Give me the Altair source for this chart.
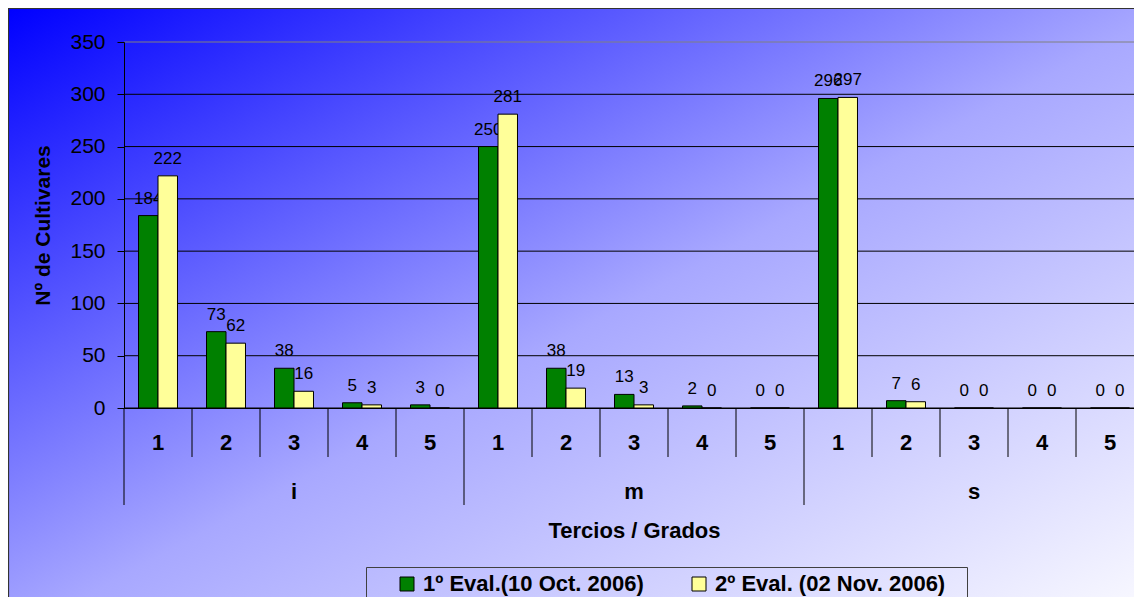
import altair as alt
import pandas as pd

tercios = ["i", "m", "s"]
grados = ["1", "2", "3", "4", "5"]
series = ["1º Eval.(10 Oct. 2006)", "2º Eval. (02 Nov. 2006)"]
eval1 = [184, 73, 38, 5, 3, 250, 38, 13, 2, 0, 296, 7, 0, 0, 0]
eval2 = [222, 62, 16, 3, 0, 281, 19, 3, 0, 0, 297, 6, 0, 0, 0]
y_ticks = [0, 50, 100, 150, 200, 250, 300, 350]
colors = ["#008000", "#FFFF99"]

cats = [f"{t}-{g}" for t in tercios for g in grados]
rows = []
for k, c in enumerate(cats):
    t, g = c.split("-")
    rows.append({"cat": c, "tercio": t, "grado": g, "serie": series[0], "v": eval1[k]})
    rows.append({"cat": c, "tercio": t, "grado": g, "serie": series[1], "v": eval2[k]})
df = pd.DataFrame(rows)
cat_df = pd.DataFrame({
    "cat": cats,
    "tercio": [c.split("-")[0] for c in cats],
    "grado": [c.split("-")[1] for c in cats],
})
grid_df = pd.DataFrame({"v": y_ticks})

W, H = 1020, 366
FONT = "Liberation Sans"

xscale = alt.Scale(domain=cats, paddingInner=0, paddingOuter=0)
yscale = alt.Scale(domain=[0, 350], nice=False)
xoff_scale = alt.Scale(domain=series, paddingInner=0, paddingOuter=0.744)

xaxis = alt.Axis(labels=False, ticks=False, domain=True, domainColor="black", domainWidth=1,
                 zindex=1, titleFont=FONT, titleFontSize=22, titleFontWeight="bold",
                 titleColor="black", titleY=122, titleBaseline="middle")
yaxis = alt.Axis(values=y_ticks, grid=False, domainColor="black", tickColor="black", tickSize=7,
                 labelFont=FONT, labelFontSize=21, labelColor="black", labelPadding=12,
                 title="Nº de Cultivares", titleFont=FONT, titleFontSize=21, titleFontWeight="bold",
                 titleColor="black", titleX=-81, titleY=H / 2, titleAngle=270,
                 titleBaseline="middle", titleAlign="center", zindex=1)


def X(**kw):
    return alt.X("cat:N", scale=xscale, title="Tercios / Grados", axis=xaxis, **kw)


def Y():
    return alt.Y("v:Q", scale=yscale, axis=yaxis)


grad = alt.LinearGradient(
    gradient="linear",
    stops=[alt.GradientStop(color="#0000FF", offset=0),
           alt.GradientStop(color="#A8A8FF", offset=0.5),
           alt.GradientStop(color="#FFFFFF", offset=1)],
    x1=0, y1=0, x2=1, y2=1)

bg = alt.Chart(alt.Data(values=[{}])).mark_rect(fill=grad, stroke="#333333", strokeWidth=1.2).encode(
    x=alt.value(-115.5), x2=alt.value(W + 30), y=alt.value(-33.5), y2=alt.value(H + 230))

grid = alt.Chart(grid_df).mark_rule(strokeWidth=1).encode(
    y=Y(), x=alt.value(0), x2=alt.value(W),
    color=alt.condition("datum.v == 350", alt.value("#808080"), alt.value("black")))

labels = alt.Chart(df).mark_text(font=FONT, fontSize=17, color="black", dy=-12,
                                 baseline="alphabetic").encode(
    x=X(), xOffset=alt.XOffset("serie:N", scale=xoff_scale), y=Y(), text="v:Q")

bars = alt.Chart(df).mark_bar(stroke="black", strokeWidth=1).encode(
    x=X(), xOffset=alt.XOffset("serie:N", scale=xoff_scale), y=Y(),
    color=alt.Color("serie:N", scale=alt.Scale(domain=series, range=colors),
                    legend=alt.Legend(orient="none", legendX=272, legendY=531, direction="horizontal",
                                      title=None, symbolType="square", symbolSize=196,
                                      symbolStrokeColor="black", symbolStrokeWidth=1,
                                      labelFont=FONT, labelFontSize=22, labelFontWeight="bold",
                                      labelColor="black", labelLimit=400, labelOffset=5,
                                      columnPadding=44, padding=0)))

sep_short = alt.Chart(cat_df).transform_filter("datum.grado != '1'").mark_rule(color="black").encode(
    x=X(bandPosition=0), y=alt.value(H), y2=alt.value(H + 49))
sep_long = alt.Chart(cat_df).transform_filter("datum.grado == '1'").mark_rule(color="black").encode(
    x=X(bandPosition=0), y=alt.value(H), y2=alt.value(H + 97))

grade_txt = alt.Chart(cat_df).mark_text(font=FONT, fontSize=22, fontWeight="bold", color="black",
                                        baseline="middle").encode(
    x=X(), y=alt.value(H + 35), text="grado:N")
tercio_txt = alt.Chart(cat_df).transform_filter("datum.grado == '3'").mark_text(
    font=FONT, fontSize=22, fontWeight="bold", color="black", baseline="middle").encode(
    x=X(), y=alt.value(H + 84), text="tercio:N")

legbox = alt.Chart(alt.Data(values=[{}])).mark_rect(filled=False, stroke="#404040", strokeWidth=1).encode(
    x=alt.value(242.5), x2=alt.value(843.5), y=alt.value(525.5), y2=alt.value(H + 240))

chart = alt.layer(bg, grid, labels, bars, sep_short, sep_long, grade_txt, tercio_txt, legbox).properties(
    width=W, height=H, autosize="none",
    padding={"left": 116, "top": 34, "right": -10, "bottom": 189},
    background="white",
).configure_view(strokeWidth=0)

chart.save("out.html", embed_options={"renderer": "svg", "actions": False})
